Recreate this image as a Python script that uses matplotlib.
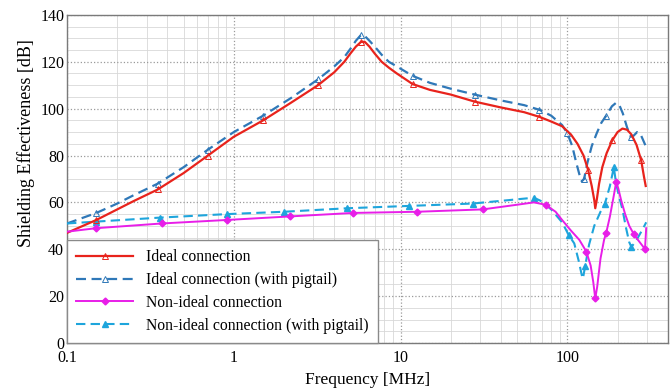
import numpy as np
import matplotlib
matplotlib.use('Agg')
import matplotlib.pyplot as plt
from matplotlib.ticker import FixedLocator, NullFormatter, MultipleLocator

plt.rcParams['font.family'] = ['Liberation Serif', 'DejaVu Serif']

# Ideal connection
f_ideal = [0.1, 0.15, 0.2, 0.25, 0.35, 0.5, 0.7, 1.0, 1.5, 2.2, 3.2, 4.0, 4.6, 5.0, 5.4, 5.8,
           6.1, 6.5, 7.0, 7.7, 8.5, 9.5, 11.8, 15, 20, 27.8, 40, 55, 68, 80, 93, 105, 115, 125,
           133, 140, 145, 147, 150, 155, 162, 172, 186, 200, 214, 228, 242, 260, 277, 288, 295]
se_ideal = [47, 52.5, 57, 60.5, 65.5, 72.5, 80, 88, 95, 102.5, 110, 115.5, 120, 123.5, 126.5, 128.5,
            128.5, 126.5, 123.5, 120, 117.5, 115, 110.5, 108, 106, 103, 100.5, 98.5, 96.5, 94.5, 92.5,
            89, 85, 80, 74, 67, 61, 57.5, 61, 68, 75, 81, 86.5, 90, 91.5, 91, 89, 84.5, 78, 71, 67]

# Ideal connection (with pigtail)
f_ideal_pt = [0.1, 0.15, 0.2, 0.25, 0.35, 0.5, 0.7, 1.0, 1.5, 2.2, 3.2, 4.0, 4.6, 5.0, 5.4, 5.8,
              6.1, 6.5, 7.0, 7.7, 8.5, 9.5, 11.8, 15, 20, 27.8, 40, 55, 68, 80, 93, 100, 107, 113,
              118, 122, 126, 132, 140, 150, 160, 171, 185, 196, 205, 215, 228, 240, 250, 262, 275,
              287, 297]
se_ideal_pt = [51, 55.5, 59.5, 63, 68, 75, 82.5, 90, 97, 104.5, 112.5, 118, 122, 125.5, 129, 131.5,
               131, 129, 126.5, 123, 120, 118, 114, 111, 108.5, 106, 103.5, 101.5, 99.5, 97, 93, 89.5,
               84, 77, 72, 69, 70, 77, 84, 89.5, 94, 97, 101, 102.5, 101.5, 98, 92, 88, 88.5, 90, 89,
               86, 83.5]

# Non-ideal connection
f_nonideal = [0.1, 0.15, 0.37, 0.91, 2.16, 5.2, 12.6, 31, 50, 63, 74, 85, 93, 105, 118, 130,
              138, 143, 147, 151, 158, 166, 171, 180, 190, 196, 202, 210, 222, 235, 250, 265,
              282, 292, 297]
se_nonideal = [47.5, 49, 51, 52.5, 54, 55.5, 56, 57, 59, 60, 59, 56, 52.5, 48, 44, 39,
               33, 26, 19, 24, 36, 44, 47, 54, 63, 68.5, 66, 61, 55, 50, 46.5, 44,
               41.5, 40, 49]

# Non-ideal connection (with pigtail)
f_nonideal_pt = [0.1, 0.15, 0.36, 0.91, 2.0, 4.8, 11.3, 27, 45, 63, 70, 80, 93, 102, 110, 117,
                 122, 124, 128, 135, 145, 158, 168, 180, 190, 196, 205, 214, 225, 235, 242,
                 255, 270, 285, 297]
se_nonideal_pt = [51, 51.8, 53.5, 55, 56, 57.5, 58.5, 59.5, 61, 62, 60.5, 57, 51.5, 46, 42.5, 35,
                  29, 27.5, 33, 42, 50, 56, 59.5, 67, 75, 68, 62, 57, 49, 43, 41,
                  43, 46, 49, 51.5]

fig = plt.figure(figsize=(6.72, 3.92), dpi=100)
ax = fig.add_axes([0.0997, 0.125, 0.894, 0.837])

ax.plot(f_ideal, se_ideal, color='#e8231c', lw=1.6, marker='^', ms=4, mfc='none',
        mew=0.7, markevery=[1, 4, 6, 8, 10, 15, 22, 25, 28, 34, 42, 48],
        label='Ideal connection', zorder=4)
ax.plot(f_ideal_pt, se_ideal_pt, color='#2f78b8', lw=1.6, ls=(0, (4.5, 2.5)), marker='^', ms=4,
        mfc='none', mew=0.7, markevery=[1, 4, 6, 8, 10, 15, 22, 25, 28, 31, 36, 41, 47],
        label='Ideal connection (with pigtail)', zorder=3)
ax.plot(f_nonideal, se_nonideal, color='#e81ee8', lw=1.4, marker='D', ms=3.5,
        markevery=[1, 2, 3, 4, 5, 6, 7, 10, 15, 18, 22, 25, 30, 33],
        label='Non-ideal connection', zorder=4)
ax.plot(f_nonideal_pt, se_nonideal_pt, color='#1ea5dc', lw=1.5, ls=(0, (4.5, 2.5)), marker='^', ms=4,
        markevery=[1, 2, 3, 4, 5, 6, 7, 9, 13, 18, 22, 24, 30],
        label='Non-ideal connection (with pigtail)', zorder=3)

ax.set_xscale('log')
ax.set_xlim(0.1, 400)
ax.set_ylim(0, 140)
ax.xaxis.set_major_locator(FixedLocator([0.1, 1, 10, 100]))
ax.set_xticklabels(['0.1', '1', '10', '100'])
ax.xaxis.set_minor_locator(FixedLocator([m * d for d in [0.1, 1, 10, 100] for m in range(2, 10)]))
ax.xaxis.set_minor_formatter(NullFormatter())
ax.yaxis.set_major_locator(MultipleLocator(20))
ax.yaxis.set_minor_locator(MultipleLocator(5))

ax.grid(which='major', color='#9a9a9a', ls=':', lw=0.9)
ax.grid(which='minor', color='#d8d8d8', ls='-', lw=0.6)
ax.set_axisbelow(True)
ax.tick_params(which='both', length=0, labelsize=11.5)
ax.tick_params(axis='x', pad=5)
ax.tick_params(axis='y', pad=2)
for s in ax.spines.values():
    s.set_color('#7a7a7a')
    s.set_linewidth(1.0)

ax.set_xlabel('Frequency [MHz]', fontsize=12.5, labelpad=4)
ax.set_ylabel('Shielding Effectiveness [dB]', fontsize=13)
ax.yaxis.set_label_coords(-0.054, 0.61)

leg = ax.legend(loc='lower left', bbox_to_anchor=(0.0, 0.0), borderaxespad=0, fontsize=11.3,
                handlelength=3.6, labelspacing=0.43, fancybox=False, framealpha=1,
                edgecolor='#8a8a8a', borderpad=0.6, handletextpad=0.85)
leg.get_frame().set_linewidth(1.0)

fig.savefig('out.png', dpi=100)
